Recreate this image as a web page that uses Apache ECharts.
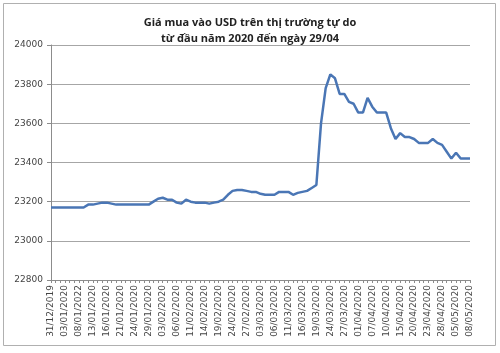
<!DOCTYPE html>
<html><head><meta charset="utf-8">
<script src="https://cdn.jsdelivr.net/npm/echarts@6/dist/echarts.min.js"></script>
<style>html,body{margin:0;padding:0;background:#fff}#c{width:500px;height:353px}</style>
</head><body><div id="c"></div>
<script>
var titleLines = ['Giá mua vào USD trên thị trường tự do', 'từ đầu năm 2020 đến ngày 29/04'];
var categories = [
'31/12/2019','01/01/2020','02/01/2020','03/01/2020','06/01/2020','07/01/2020','08/01/2022','09/01/2020','10/01/2020','13/01/2020',
'14/01/2020','15/01/2020','16/01/2020','17/01/2020','20/01/2020','21/01/2020','22/01/2020','23/01/2020','24/01/2020','27/01/2020',
'28/01/2020','29/01/2020','30/01/2020','31/01/2020','03/02/2020','04/02/2020','05/02/2020','06/02/2020','07/02/2020','10/02/2020',
'11/02/2020','12/02/2020','13/02/2020','14/02/2020','17/02/2020','18/02/2020','19/02/2020','20/02/2020','21/02/2020','24/02/2020',
'25/02/2020','26/02/2020','27/02/2020','28/02/2020','02/03/2020','03/03/2020','04/03/2020','05/03/2020','06/03/2020','09/03/2020',
'10/03/2020','11/03/2020','12/03/2020','13/03/2020','16/03/2020','17/03/2020','18/03/2020','19/03/2020','20/03/2020','23/03/2020',
'24/03/2020','25/03/2020','26/03/2020','27/03/2020','30/03/2020','31/03/2020','01/04/2020','03/04/2020','06/04/2020','07/04/2020',
'08/04/2020','09/04/2020','10/04/2020','13/04/2020','14/04/2020','15/04/2020','16/04/2020','17/04/2020','20/04/2020','21/04/2020',
'22/04/2020','23/04/2020','24/04/2020','27/04/2020','28/04/2020','29/04/2020','04/05/2020','05/05/2020','06/05/2020','07/05/2020',
'08/05/2020'];
var prices = [
23170,23170,23170,23170,23170,23170,23170,23170,23185,23185,
23190,23195,23195,23190,23185,23185,23185,23185,23185,23185,
23185,23185,23200,23215,23220,23210,23210,23195,23190,23210,
23200,23195,23195,23195,23190,23195,23200,23210,23235,23255,
23260,23260,23255,23250,23250,23240,23235,23235,23235,23250,
23250,23250,23235,23245,23250,23255,23270,23285,23600,23780,
23850,23830,23750,23750,23710,23700,23655,23655,23730,23685,
23655,23655,23655,23575,23520,23550,23530,23530,23520,23500,
23500,23500,23520,23500,23490,23455,23420,23450,23420,23420,
23420];
var yTicks = {min: 22800, max: 24000, interval: 200};

var chart = echarts.init(document.getElementById('c'));
chart.setOption({
  animation: false,
  backgroundColor: '#fff',
  graphic: [{type: 'rect', shape: {x: 3.5, y: 3.5, width: 492, height: 342}, style: {fill: 'none', stroke: '#b0b0b0', lineWidth: 1}}],
  title: {
    text: titleLines.join('\n'), left: 'center', top: 10,
    textStyle: {fontFamily: 'Open Sans', fontSize: 11, fontWeight: 'bold', color: '#222', lineHeight: 16}
  },
  grid: {left: 51, right: 30, top: 45, bottom: 73},
  xAxis: {
    type: 'category', data: categories, boundaryGap: false,
    axisLine: {lineStyle: {color: '#8c8c8c'}},
    axisTick: {show: true, interval: 0, length: 3, lineStyle: {color: '#8c8c8c'}},
    axisLabel: {interval: 2, rotate: 90, fontSize: 9, fontFamily: 'DejaVu Sans', color: '#444', margin: 5}
  },
  yAxis: {
    type: 'value', min: yTicks.min, max: yTicks.max, interval: yTicks.interval,
    axisLine: {show: true, lineStyle: {color: '#8c8c8c'}},
    axisTick: {show: true, length: 4, lineStyle: {color: '#8c8c8c'}},
    axisLabel: {fontSize: 9, fontFamily: 'DejaVu Sans', color: '#444', margin: 8, formatter: function (v) { return String(v); }},
    splitLine: {lineStyle: {color: '#a6a6a6'}}
  },
  series: [{
    type: 'line', data: prices, showSymbol: false, symbol: 'none',
    lineStyle: {color: '#4a76b5', width: 2.5}
  }]
});
</script></body></html>
